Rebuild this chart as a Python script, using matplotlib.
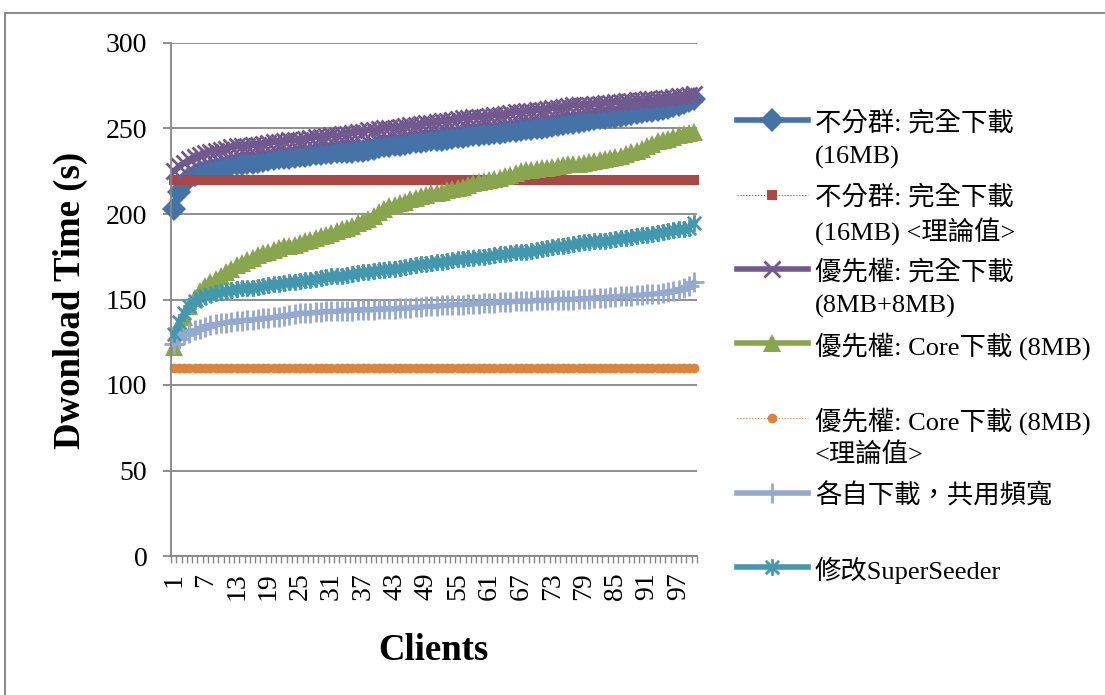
import matplotlib
matplotlib.use("Agg")
import matplotlib.pyplot as plt
from matplotlib.lines import Line2D
from matplotlib.path import Path
from matplotlib.patches import Rectangle

plt.rcParams['font.family'] = ['Liberation Serif', 'Noto Sans CJK TC']

# x axis: client number 1..100
clients = list(range(1, 101))
tick_pos = [1, 7, 13, 19, 25, 31, 37, 43, 49, 55, 61, 67, 73, 79, 85, 91, 97]
tick_labels = ['1', '7', '13', '19', '25', '31', '37', '43', '49', '55',
               '61', '67', '73', '79', '85', '91', '97']

# 不分群: 完全下載 (16MB)
full_16mb = [
    203, 213, 218, 221, 223, 224.5, 225, 226, 226.5, 227,
    227.5, 228.5, 229, 229.5, 230, 230, 230.5, 231, 231.5, 232,
    232.5, 233, 233, 233.5, 234, 234, 234.5, 235, 235, 235.5,
    235.5, 236, 236, 236.5, 236.5, 237, 237, 237.5, 238, 239,
    239.5, 240, 240.5, 240.5, 241, 241.5, 242, 242, 242.5, 243,
    243, 243.5, 244, 244.5, 245, 245, 245.5, 246, 246, 246.5,
    247, 247.5, 247.5, 248, 248.5, 248.5, 249, 249.5, 249.5, 250,
    250.5, 251, 251.5, 252, 252.5, 253, 253.5, 254, 254.5, 255,
    255.5, 256, 256, 256.5, 257, 257.5, 258, 258.5, 259, 259.5,
    260, 260.5, 261, 261.5, 262, 263, 264, 265, 266, 267,
]

# 不分群: 完全下載 (16MB) <理論值>
full_16mb_theory = [
    220, 220, 220, 220, 220, 220, 220, 220, 220, 220,
    220, 220, 220, 220, 220, 220, 220, 220, 220, 220,
    220, 220, 220, 220, 220, 220, 220, 220, 220, 220,
    220, 220, 220, 220, 220, 220, 220, 220, 220, 220,
    220, 220, 220, 220, 220, 220, 220, 220, 220, 220,
    220, 220, 220, 220, 220, 220, 220, 220, 220, 220,
    220, 220, 220, 220, 220, 220, 220, 220, 220, 220,
    220, 220, 220, 220, 220, 220, 220, 220, 220, 220,
    220, 220, 220, 220, 220, 220, 220, 220, 220, 220,
    220, 220, 220, 220, 220, 220, 220, 220, 220, 220,
]

# 優先權: 完全下載 (8MB+8MB)
prio_full = [
    225, 228, 230, 232, 233.5, 234.5, 235.5, 236, 237, 237.5,
    238, 239, 239.5, 239.5, 240, 240.5, 240.5, 241, 241.5, 242,
    242, 242.5, 243, 243, 243.5, 244, 244.5, 245, 245, 245.5,
    246, 246, 246.5, 247, 247.5, 248, 248, 249, 249, 249.5,
    250, 250.5, 250.5, 251, 251.5, 252, 252, 252.5, 253, 253.5,
    254, 254.5, 254.5, 255, 255.5, 256, 256, 256.5, 257, 257,
    257.5, 258, 258, 258.5, 259, 259.5, 259.5, 260, 260.5, 261,
    261, 261.5, 262, 262, 262.5, 263, 263.5, 263.5, 264, 264,
    264.5, 264.5, 265, 265, 265.5, 265.5, 266, 266, 266.5, 266.5,
    267, 267, 267.5, 268, 268, 268.5, 269, 269, 269.5, 270,
]

# 優先權: Core下載 (8MB)
prio_core = [
    122, 132, 140, 146, 151, 155, 158, 160, 162, 164,
    166, 168, 170, 171.5, 173, 174.5, 176, 177, 178, 179,
    180, 181, 181.5, 182, 183, 184, 185, 186, 187, 188,
    189, 190, 191, 192, 193, 194.5, 196, 197, 199, 201,
    203, 204.5, 205.5, 206.5, 207, 208.5, 209.5, 210.5, 211, 212,
    212.5, 213, 214, 214.5, 215, 216, 217, 218, 219, 219.5,
    220, 220.5, 221, 222, 223, 224, 225, 225.5, 226, 226.5,
    227, 227, 227.5, 228, 228.5, 229, 229, 229.5, 230, 230.5,
    231, 231.5, 232, 232.5, 233.5, 234, 235, 236, 237, 238,
    239.5, 241, 242.5, 243.5, 244, 245, 246, 246.5, 247.5, 248,
]

# 優先權: Core下載 (8MB) <理論值>
prio_core_theory = [
    110, 110, 110, 110, 110, 110, 110, 110, 110, 110,
    110, 110, 110, 110, 110, 110, 110, 110, 110, 110,
    110, 110, 110, 110, 110, 110, 110, 110, 110, 110,
    110, 110, 110, 110, 110, 110, 110, 110, 110, 110,
    110, 110, 110, 110, 110, 110, 110, 110, 110, 110,
    110, 110, 110, 110, 110, 110, 110, 110, 110, 110,
    110, 110, 110, 110, 110, 110, 110, 110, 110, 110,
    110, 110, 110, 110, 110, 110, 110, 110, 110, 110,
    110, 110, 110, 110, 110, 110, 110, 110, 110, 110,
    110, 110, 110, 110, 110, 110, 110, 110, 110, 110,
]

# 各自下載，共用頻寬
shared_bw = [
    124, 127, 129, 130.5, 132, 133, 134, 135, 135.5, 136,
    136.5, 137, 137.5, 137.5, 138, 138, 138.5, 139, 139, 139.5,
    140, 140.5, 141, 141.5, 142, 142, 142, 142.5, 142.5, 143,
    143, 143, 143.5, 143.5, 143.5, 144, 144, 144, 144, 144.5,
    144.5, 144.5, 144.5, 145, 145, 145, 145.5, 145.5, 146, 146,
    146, 146.5, 146.5, 147, 147, 147, 147.5, 147.5, 147.5, 148,
    148, 148, 148.5, 148.5, 148.5, 149, 149, 149, 149, 149.5,
    149.5, 149.5, 149.5, 150, 150, 150, 150, 150.5, 150.5, 150.5,
    151, 151, 151, 151.5, 151.5, 152, 152, 152, 152.5, 152.5,
    153, 153, 153.5, 154, 154.5, 155, 155.5, 156.5, 158, 160,
]

# 修改SuperSeeder
super_seeder = [
    130, 137, 142, 146, 149, 151, 152, 153, 154, 154.5,
    155, 155.5, 156, 156.5, 157, 157, 157.5, 158, 158.5, 159,
    159, 159.5, 160, 160.5, 161, 161.5, 161.5, 162, 162.5, 163,
    163.5, 163.5, 164, 164.5, 165, 165.5, 166, 166, 166.5, 167,
    167.5, 168, 168, 168.5, 169, 169.5, 170, 170.5, 171, 171.5,
    172, 172, 172.5, 173, 173.5, 173.5, 174, 174.5, 175, 175,
    175.5, 176, 176.5, 176.5, 177, 177.5, 178, 178, 178.5, 179,
    179.5, 180, 180.5, 181, 181.5, 182, 182.5, 183, 183.5, 183.5,
    184, 184.5, 184.5, 185, 185.5, 186, 186, 186.5, 187, 187.5,
    188, 188.5, 189, 189.5, 190, 190.5, 191, 191.5, 192, 195,
]

# asterisk marker (x with a vertical bar)
asterisk = Path([(-1, -1), (1, 1), (-1, 1), (1, -1), (0, -1.25), (0, 1.25)],
                [Path.MOVETO, Path.LINETO, Path.MOVETO, Path.LINETO,
                 Path.MOVETO, Path.LINETO])

series = [
    (full_16mb, ['不分群: 完全下載', '(16MB)'],
     dict(color='#4572A7', lw=4, marker='D', ms=12, mew=0)),
    (full_16mb_theory, ['不分群: 完全下載', '(16MB) <理論值>'],
     dict(color='#AA4643', lw=0.8, ls=':', marker='s', ms=7, mew=0)),
    (prio_full, ['優先權: 完全下載', '(8MB+8MB)'],
     dict(color='#71588F', lw=4, marker='x', ms=12, mew=2)),
    (prio_core, ['優先權: Core下載 (8MB)'],
     dict(color='#89A54E', lw=4, marker='^', ms=13, mew=0)),
    (prio_core_theory, ['優先權: Core下載 (8MB)', '<理論值>'],
     dict(color='#DB843D', lw=0.8, ls=':', marker='o', ms=7, mew=0)),
    (shared_bw, ['各自下載，共用頻寬'],
     dict(color='#93A9CF', lw=4, marker='+', ms=14, mew=2)),
    (super_seeder, ['修改SuperSeeder'],
     dict(color='#4198AF', lw=4, marker=asterisk, ms=12, mew=2)),
]

W, H = 1105, 695
fig = plt.figure(figsize=(W / 100, H / 100), dpi=100)
ax = fig.add_axes([171 / W, 1 - 556 / H, 526 / W, 513 / H])

for values, label, style in series:
    ax.plot(clients, values, clip_on=False, **style)

grey = '#868686'
ax.set_xlim(0.5, 100.5)
ax.set_ylim(0, 300)
ax.set_yticks([0, 50, 100, 150, 200, 250, 300])
ax.yaxis.grid(True, color=grey, lw=1.3)
ax.set_axisbelow(True)
for side in ['top', 'right']:
    ax.spines[side].set_visible(False)
for side in ['left', 'bottom']:
    ax.spines[side].set_color(grey)
    ax.spines[side].set_linewidth(1.3)

ax.set_xticks(tick_pos)
ax.set_xticklabels(tick_labels, rotation=90)
ax.set_xticks([c - 0.5 for c in clients] + [100.5], minor=True)
ax.tick_params(axis='x', which='major', length=0, pad=12, labelsize=20)
ax.tick_params(axis='x', which='minor', length=5, width=1, color=grey)
ax.tick_params(axis='y', length=6, width=1.3, color=grey, pad=11, labelsize=20)

fig.text(70 / W, 1 - 300 / H, 'Dwonload Time (s)', rotation=90,
         ha='center', va='center', fontsize=26.5, fontweight='bold')
fig.text(433 / W, 1 - 650 / H, 'Clients',
         ha='center', va='center', fontsize=26.5, fontweight='bold')

# legend on the right, one block per series
x0, xm, x1, xt = 737 / W, 772 / W, 808 / W, 815 / W
for k, (values, label, style) in enumerate(series):
    yp = 120 + 74.5 * k
    y = 1 - yp / H
    handle = Line2D([x0, xm, x1], [y, y, y], markevery=[1],
                    transform=fig.transFigure, **style)
    fig.add_artist(handle)
    for j, line in enumerate(label):
        fig.text(xt, 1 - (yp + 3 + 34 * j) / H, line,
                 ha='left', va='center', fontsize=19)

# outer chart border
fig.add_artist(Rectangle((5 / W, -0.1), 1.2, 0.981 + 0.1, transform=fig.transFigure,
                         fill=False, ec='#8c8c8c', lw=1.5))

fig.savefig('out.png', dpi=100)
